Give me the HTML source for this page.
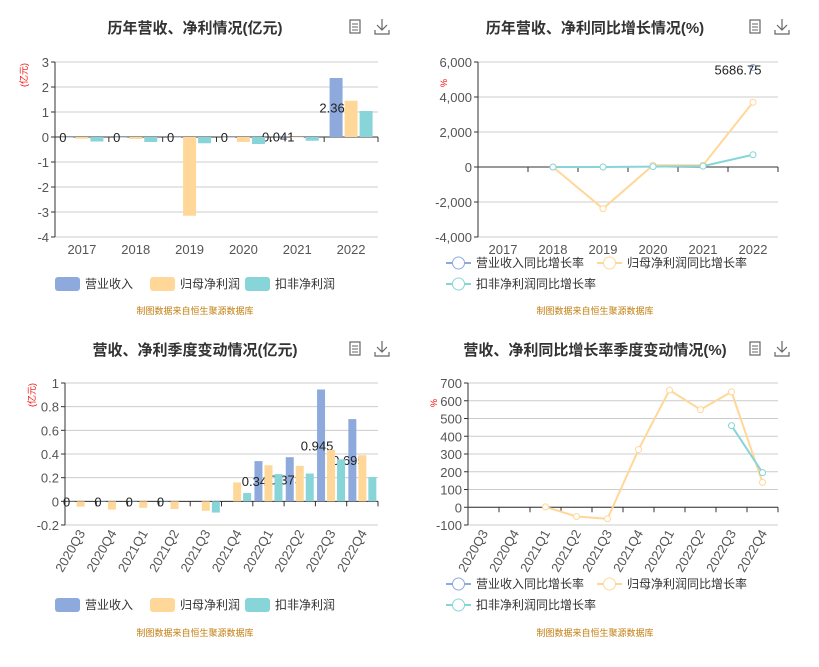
<!DOCTYPE html>
<html><head><meta charset="utf-8"><style>
body{margin:0;width:819px;height:667px;background:#fff;font-family:"Liberation Sans","Noto Sans CJK SC",sans-serif;overflow:hidden}
svg{position:absolute;left:0;top:0}
text{font-family:"Liberation Sans","Noto Sans CJK SC",sans-serif}
</style></head><body>
<svg id="s" width="819" height="667"></svg>
<script>
const annualCats=["2017","2018","2019","2020","2021","2022"];
const annualRev=[0,0,0,0,0.041,2.36];
const annualNet=[-0.07,-0.08,-3.15,-0.2,-0.02,1.45];
const annualDed=[-0.18,-0.2,-0.25,-0.28,-0.15,1.04];
const annualTicks=[3,2,1,0,-1,-2,-3,-4];
const growRev=[null,null,null,null,null,5686.75];
const growNet=[null,0,-2380,100,100,3700];
const growDed=[null,0,0,20,50,700];
const growTicks=[6000,4000,2000,0,-2000,-4000];
const qCats=["2020Q3","2020Q4","2021Q1","2021Q2","2021Q3","2021Q4","2022Q1","2022Q2","2022Q3","2022Q4"];
const qRev=[0,0,0,0,null,null,0.34,0.373,0.945,0.695];
const qNet=[-0.045,-0.07,-0.055,-0.065,-0.08,0.16,0.305,0.3,0.435,0.39];
const qDed=[null,null,null,null,-0.095,0.07,0.23,0.235,0.355,0.205];
const qTicks=[1,0.8,0.6,0.4,0.2,0,-0.2];
const qgRev=[null,null,null,null,null,null,null,null,null,null];
const qgNet=[null,null,2,-52,-65,325,660,550,650,140];
const qgDed=[null,null,null,null,null,null,null,null,460,195];
const qgTicks=[700,600,500,400,300,200,100,0,-100];

const S=document.getElementById('s');const NS="http://www.w3.org/2000/svg";
const C={rev:"#8eaadc",net:"#ffd899",ded:"#87d5d8"};
function el(t,a,p){const e=document.createElementNS(NS,t);for(const k in a)e.setAttribute(k,a[k]);(p||S).appendChild(e);return e;}
function tx(x,y,s,a,p){const e=el('text',Object.assign({x:x,y:y,'font-size':12,fill:'#333'},a),p);e.textContent=s;return e;}
function fmt(v){return Math.abs(v)>=1000?v.toLocaleString('en-US'):String(v);}

function header(title,cx,y,ix){
  let t=tx(cx,y,title,{'font-size':15,'font-weight':'bold','text-anchor':'middle'});
  
  let g=el('g',{});
  el('rect',{x:ix,y:y-13,width:10,height:13,fill:'none',stroke:'#666','stroke-width':1.2},g);
  for(let i=0;i<3;i++)el('line',{x1:ix+2,x2:ix+8,y1:y-9+i*3,y2:y-9+i*3,stroke:'#666'},g);
  let d=el('g',{});
  el('path',{d:`M${ix+32} ${y-14}v10M${ix+27} ${y-8}l5 5 5-5M${ix+25} ${y-3}v4h14v-4`,fill:'none',stroke:'#666','stroke-width':1.2},d);
}
function source(cx,y){let t=tx(cx,y,"制图数据来自恒生聚源数据库",{'font-size':9,fill:'#c27c0e','text-anchor':'middle'});
  }

function axes(o){
  const sy=v=>o.y0+(o.ticks[0]-v)*(o.y1-o.y0)/(o.ticks[0]-o.ticks[o.ticks.length-1]);
  const bw=(o.x1-o.x0)/o.cats.length;const cx=i=>o.x0+bw*(i+0.5);
  o.ticks.forEach(v=>{el('line',{x1:o.x0,x2:o.x1,y1:sy(v),y2:sy(v),stroke:'#ccc'});
    el('line',{x1:o.x0-4,x2:o.x0,y1:sy(v),y2:sy(v),stroke:'#333'});
    let t=tx(o.x0-6,sy(v)+5,fmt(v),{'text-anchor':'end',fill:'#555','font-size':13});});
  el('line',{x1:o.x0,x2:o.x0,y1:o.y0,y2:o.y1,stroke:'#333'});
  el('line',{x1:o.x0,x2:o.x1,y1:sy(0),y2:sy(0),stroke:'#333'});
  for(let i=0;i<=o.cats.length;i++)el('line',{x1:o.x0+bw*i,x2:o.x0+bw*i,y1:sy(0),y2:sy(0)+5,stroke:'#333'});
  o.cats.forEach((c,i)=>{let t;
    if(o.rot){t=tx(cx(i)+5,o.y1+8,c,{'text-anchor':'end',fill:'#555','font-size':13,transform:`rotate(-60 ${cx(i)+5} ${o.y1+8})`});}
    else t=tx(cx(i),o.y1+17,c,{'text-anchor':'middle',fill:'#555','font-size':13});
    });
  let u=tx(o.ux,o.uy,o.unit,{'font-size':9,fill:'red','text-anchor':'middle',transform:`rotate(-90 ${o.ux} ${o.uy})`});
  
  return {sy,cx,bw};
}
function bars(o,series,w){
  const a=axes(o);
  series.forEach((s,si)=>s.vals.forEach((v,i)=>{if(v===null)return;
    const x=a.cx(i)+(si-1)*(w+2)-w/2;const y=Math.min(a.sy(v),a.sy(0));const h=Math.abs(a.sy(v)-a.sy(0));
    let r=el('rect',{x:x,y:y,width:w,height:Math.max(h,0.5),fill:s.c});
    
    if(s.n==='revenue'){let t=tx(x+w/2-4,(a.sy(v)+a.sy(0))/2+5,String(v),{'text-anchor':'middle',fill:'#222','font-size':13});
      }
  }));
}
function lines(o,series){
  const a=axes(o);
  series.forEach(s=>{let pts=[];s.vals.forEach((v,i)=>{if(v!==null)pts.push([a.cx(i),a.sy(v)]);});
    if(pts.length>1){let p=el('polyline',{points:pts.map(p=>p.join(',')).join(' '),fill:'none',stroke:s.c,'stroke-width':2});
      }
    pts.forEach(p=>{let c=el('circle',{cx:p[0],cy:p[1],r:3,fill:'#fff',stroke:s.c,'stroke-width':1});
      });
    if(s.label)s.vals.forEach((v,i)=>{if(v!==null){let t=tx(a.cx(i)-15,a.sy(v)+7,String(v),{'text-anchor':'middle',fill:'#222','font-size':13});
      }});
  });
}
function barLegend(x,y){[["营业收入",C.rev],["归母净利润",C.net],["扣非净利润",C.ded]].forEach((l,i)=>{
  let g=el('g',{});
  const xx=x+i*95;el('rect',{x:xx,y:y-7,width:25,height:14,rx:3,fill:l[1]},g);tx(xx+30,y+4,l[0],{fill:'#333'},g);});}
function lineLegend(x,y){[["营业收入同比增长率",C.rev,0,0],["归母净利润同比增长率",C.net,151,0],["扣非净利润同比增长率",C.ded,0,21]].forEach(l=>{
  let g=el('g',{});
  const xx=x+l[2],yy=y+l[3];el('line',{x1:xx,x2:xx+25,y1:yy,y2:yy,stroke:l[1],'stroke-width':2},g);
  el('circle',{cx:xx+12.5,cy:yy,r:6,fill:'#fff',stroke:l[1]},g);tx(xx+30,yy+4,l[0],{fill:'#333'},g);});}

header("历年营收、净利情况(亿元)",195,33,350);
bars({x0:55,x1:378,y0:62,y1:237,ticks:annualTicks,cats:annualCats,unit:"(亿元)",ux:27,uy:75},
 [{n:'revenue',vals:annualRev,c:C.rev},{n:'net-profit',vals:annualNet,c:C.net},{n:'deducted-profit',vals:annualDed,c:C.ded}],13);
barLegend(55,284);source(195,314);

header("历年营收、净利同比增长情况(%)",595,33,750);
lines({x0:478,x1:778,y0:62,y1:237,ticks:growTicks,cats:annualCats,unit:"%",ux:447,uy:83},
 [{n:'revenue-growth',vals:growRev,c:C.rev,label:true},{n:'net-profit-growth',vals:growNet,c:C.net},{n:'deducted-growth',vals:growDed,c:C.ded}]);
lineLegend(446,263);source(595,314);

header("营收、净利季度变动情况(亿元)",195,355,350);
bars({x0:65,x1:378,y0:383,y1:525,ticks:qTicks,cats:qCats,unit:"(亿元)",ux:35,uy:395,rot:true},
 [{n:'revenue',vals:qRev,c:C.rev},{n:'net-profit',vals:qNet,c:C.net},{n:'deducted-profit',vals:qDed,c:C.ded}],8);
barLegend(55,605);source(195,636);

header("营收、净利同比增长率季度变动情况(%)",595,355,750);
lines({x0:468,x1:778,y0:383,y1:525,ticks:qgTicks,cats:qCats,unit:"%",ux:437,uy:403,rot:true},
 [{n:'revenue-growth',vals:qgRev,c:C.rev},{n:'net-profit-growth',vals:qgNet,c:C.net},{n:'deducted-growth',vals:qgDed,c:C.ded}]);
lineLegend(446,584);source(595,636);
</script></body></html>
